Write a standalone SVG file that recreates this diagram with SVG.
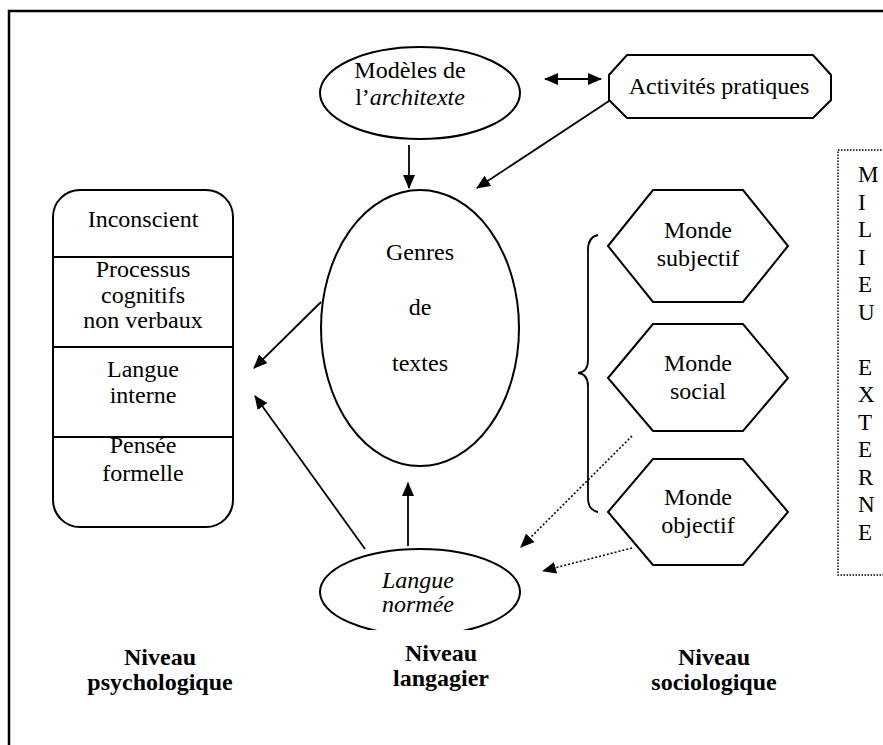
<svg xmlns="http://www.w3.org/2000/svg" width="883" height="745" viewBox="0 0 883 745">
<style>
  .shape { fill: #fff; stroke: #000; stroke-width: 2; }
  .t { font-family: 'Liberation Serif', 'DejaVu Serif', serif; font-size: 24px; fill: #000; text-anchor: middle; }
  .it { font-style: italic; }
  .b { font-family: 'Liberation Serif', 'DejaVu Serif', serif; font-size: 24px; font-weight: bold; fill: #000; text-anchor: middle; }
  .m { font-family: 'Liberation Serif', 'DejaVu Serif', serif; font-size: 23px; fill: #000; }
  .c { stroke: #000; stroke-width: 1.8; fill: none; }
  .d { stroke: #000; stroke-width: 1.6; fill: none; stroke-dasharray: 2 2; }
</style>
<defs>
  <marker id="ah" markerUnits="userSpaceOnUse" markerWidth="16" markerHeight="14" refX="13" refY="6" orient="auto-start-reverse">
    <path d="M0,0 L14,6 L0,12 z" fill="#000"/>
  </marker>
  <clipPath id="clipLN"><rect x="0" y="0" width="883" height="630"/></clipPath>
</defs>
<rect width="883" height="745" fill="#fff"/>
<rect x="9" y="11" width="900" height="800" fill="none" stroke="#000" stroke-width="2.5"/>

<g id="milieu-externe">
  <rect x="838" y="150" width="100" height="425" fill="none" stroke="#000" stroke-width="1.5" stroke-dasharray="1.5 1.5"/>
  <text class="m" x="858" y="182">M</text>
  <text class="m" x="858" y="209.5">I</text>
  <text class="m" x="858" y="237">L</text>
  <text class="m" x="858" y="264.5">I</text>
  <text class="m" x="858" y="292">E</text>
  <text class="m" x="858" y="319.5">U</text>
  <text class="m" x="858" y="374.5">E</text>
  <text class="m" x="858" y="402">X</text>
  <text class="m" x="858" y="429.5">T</text>
  <text class="m" x="858" y="457">E</text>
  <text class="m" x="858" y="484.5">R</text>
  <text class="m" x="858" y="512">N</text>
  <text class="m" x="858" y="539.5">E</text>
</g>

<g id="modeles">
  <ellipse class="shape" cx="420" cy="93" rx="100" ry="46"/>
  <text class="t" x="410" y="78">Modèles de</text>
  <text class="t" x="410" y="105">l’<tspan class="it">architexte</tspan></text>
</g>

<g id="activites">
  <polygon class="shape" points="627,55 813,55 831,75 831,100 813,118 627,118 609,100 609,75"/>
  <text class="t" x="719" y="94">Activités pratiques</text>
</g>

<g id="genres">
  <ellipse class="shape" cx="420" cy="328" rx="99" ry="138"/>
  <text class="t" x="420" y="260">Genres</text>
  <text class="t" x="420" y="315">de</text>
  <text class="t" x="420" y="371">textes</text>
</g>

<g id="psycho-box">
  <rect class="shape" x="53" y="190" width="180" height="337" rx="27" ry="27"/>
  <line x1="53" y1="257" x2="233" y2="257" stroke="#000" stroke-width="2"/>
  <line x1="53" y1="347" x2="233" y2="347" stroke="#000" stroke-width="2"/>
  <line x1="53" y1="437" x2="233" y2="437" stroke="#000" stroke-width="2"/>
  <text class="t" x="143" y="227">Inconscient</text>
  <text class="t" x="143" y="277">Processus</text>
  <text class="t" x="143" y="303">cognitifs</text>
  <text class="t" x="143" y="328">non verbaux</text>
  <text class="t" x="143" y="377">Langue</text>
  <text class="t" x="143" y="403">interne</text>
  <text class="t" x="143" y="453">Pensée</text>
  <text class="t" x="143" y="481">formelle</text>
</g>

<g id="monde-subjectif">
  <polygon class="shape" points="608,246 653,190 743,190 788,246 743,302 653,302"/>
  <text class="t" x="698" y="238">Monde</text>
  <text class="t" x="698" y="266">subjectif</text>
</g>
<g id="monde-social">
  <polygon class="shape" points="608,378 653,324 743,324 788,378 743,431 653,431"/>
  <text class="t" x="698" y="371">Monde</text>
  <text class="t" x="698" y="399">social</text>
</g>
<g id="monde-objectif">
  <polygon class="shape" points="608,512 653,459 743,459 788,512 743,565 653,565"/>
  <text class="t" x="698" y="505">Monde</text>
  <text class="t" x="698" y="533">objectif</text>
</g>

<g id="brace">
  <path d="M598,235 Q588,237 588,250 L588,360 Q588,372 578,373 Q588,374 588,386 L588,498 Q588,510 598,512" fill="none" stroke="#000" stroke-width="1.8"/>
</g>

<g id="langue-normee">
  <ellipse class="shape" cx="420" cy="592" rx="100" ry="43" clip-path="url(#clipLN)"/>
  <text class="t it" x="418" y="588">Langue</text>
  <text class="t it" x="418" y="612">normée</text>
</g>

<g id="labels">
  <text class="b" x="160" y="665">Niveau</text>
  <text class="b" x="160" y="690">psychologique</text>
  <text class="b" x="441" y="661">Niveau</text>
  <text class="b" x="441" y="686">langagier</text>
  <text class="b" x="714" y="665">Niveau</text>
  <text class="b" x="714" y="690">sociologique</text>
</g>

<g id="connectors">
  <line class="c" x1="545" y1="79" x2="601" y2="79" marker-start="url(#ah)" marker-end="url(#ah)"/>
  <line class="c" x1="409" y1="145" x2="409" y2="188" marker-end="url(#ah)"/>
  <line class="c" x1="609" y1="101" x2="477" y2="188" marker-end="url(#ah)"/>
  <line class="c" x1="321" y1="302" x2="254" y2="368" marker-end="url(#ah)"/>
  <line class="c" x1="365" y1="549" x2="255" y2="396" marker-end="url(#ah)"/>
  <line class="c" x1="408" y1="546" x2="408" y2="483" marker-end="url(#ah)"/>
  <line class="d" x1="632" y1="436" x2="521" y2="547" marker-end="url(#ah)"/>
  <line class="d" x1="632" y1="548" x2="543" y2="571" marker-end="url(#ah)"/>
</g>
</svg>
